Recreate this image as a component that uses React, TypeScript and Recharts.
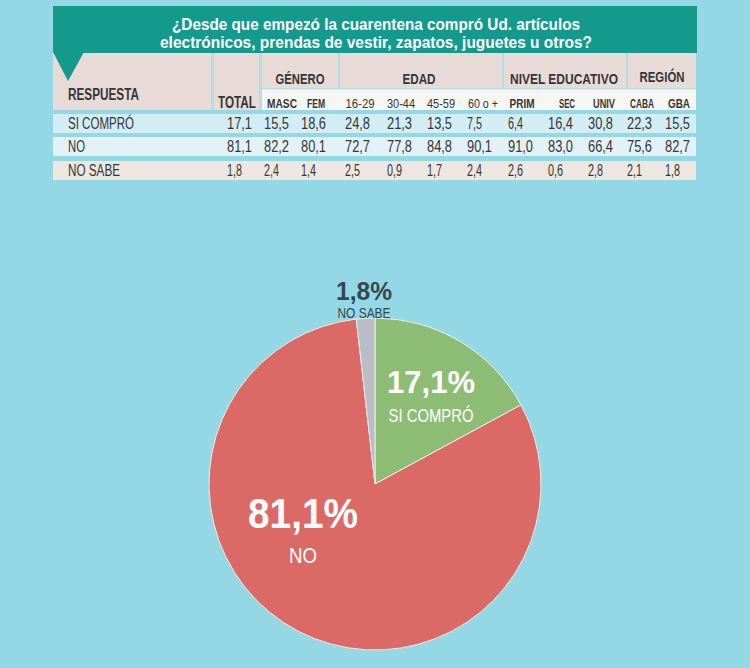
import React from 'react';
import { PieChart, Pie, Cell } from 'recharts';

const titleLines = [
  '¿Desde que empezó la cuarentena compró Ud. artículos',
  'electrónicos, prendas de vestir, zapatos, juguetes u otros?',
];
const groupLabels = ['GÉNERO', 'EDAD', 'NIVEL EDUCATIVO', 'REGIÓN'];
const subLabels = ['MASC', 'FEM', '16-29', '30-44', '45-59', '60 o +', 'PRIM', 'SEC', 'UNIV', 'CABA', 'GBA'];
const respuestas = ['SI COMPRÓ', 'NO', 'NO SABE'];
const totals = [17.1, 81.1, 1.8];
const siCompro = [15.5, 18.6, 24.8, 21.3, 13.5, 7.5, 6.4, 16.4, 30.8, 22.3, 15.5];
const noCompro = [82.2, 80.1, 72.7, 77.8, 84.8, 90.1, 91.0, 83.0, 66.4, 75.6, 82.7];
const noSabe = [2.4, 1.4, 2.5, 0.9, 1.7, 2.4, 2.6, 0.6, 2.8, 2.1, 1.8];
const rowValues = [siCompro, noCompro, noSabe];

const FONT = "'Liberation Sans',Arial,Roboto,sans-serif";
const BG = '#94D7E5';
const TEAL = '#14998D';
const BEIGE = '#E8DBD7';
const SEP = '#B8DCE4';
const DARK = '#363636';
const ROW_BG = ['#D3EDF5', '#E2F2F6', '#EDE6E1'];
const PIE_COLORS = ['#8DBD74', '#DB6966', '#B9BEC6'];

const fmt = (v: number) => v.toFixed(1).replace('.', ',');

// layout (pixels)
const groupCenters = [300, 419, 564, 662];
const groupWidths = [49, 33, 108, 45];
const subCenters = [282, 316, 360, 401, 441, 483, 522, 567, 604, 642, 679];
const subWidths = [30, 18, 29, 28, 28, 30, 25, 16, 22, 24, 22];
const subBold = [true, true, false, false, false, false, true, true, true, true, true];
const valueStarts = [264, 301, 345, 387, 427, 467, 508, 548, 588, 627, 665];
const rowTops = [114, 137, 161];
const rowBaselines = [129, 152, 176];
const rowLabelWidths = [66, 17, 52];
const valueWidth = (s: string) => (s.length >= 4 ? 25 : 15);

function T(props: any) {
  const { x, y, w, size, weight, anchor, fill, children } = props;
  return (
    <text
      x={x}
      y={y}
      fontFamily={FONT}
      fontSize={size}
      fontWeight={weight || 'normal'}
      textAnchor={anchor || 'start'}
      fill={fill || DARK}
      {...(w ? { textLength: w, lengthAdjust: 'spacingAndGlyphs' } : {})}
    >
      {children}
    </text>
  );
}

function Table() {
  return (
    <svg width={750} height={200} style={{ position: 'absolute', left: 0, top: 0 }}>
      <rect x={53} y={6} width={644} height={47} fill={TEAL} />
      <T x={376} y={30} w={408} size={16.5} weight="bold" anchor="middle" fill="#FFFFFF">{titleLines[0]}</T>
      <T x={376} y={47.5} w={432} size={16.5} weight="bold" anchor="middle" fill="#FFFFFF">{titleLines[1]}</T>
      <rect x={53} y={53} width={643} height={57} fill={BEIGE} />
      <rect x={262} y={88} width={434} height={22} fill={SEP} />
      <rect x={262} y={89.5} width={434} height={20.5} fill="#F6F6F3" />
      <rect x={211} y={53} width={3} height={57} fill={SEP} />
      <rect x={259} y={53} width={3} height={57} fill={SEP} />
      <rect x={338} y={53} width={2} height={35} fill={SEP} />
      <rect x={502} y={53} width={2} height={35} fill={SEP} />
      <rect x={626} y={53} width={2} height={35} fill={SEP} />
      <polygon points="53,52 84,52 68,81" fill={TEAL} />
      <T x={68} y={100} w={71} size={16} weight="bold">RESPUESTA</T>
      <T x={218} y={108} w={38} size={16} weight="bold">TOTAL</T>
      {groupLabels.map((g, i) => (
        <T key={g} x={groupCenters[i]} y={i === 3 ? 82 : 84} w={groupWidths[i]} size={15} weight="bold" anchor="middle">{g}</T>
      ))}
      {subLabels.map((s, i) => (
        <T key={s} x={subCenters[i]} y={108} w={subWidths[i]} size={12} weight={subBold[i] ? 'bold' : 'normal'} anchor="middle">{s}</T>
      ))}
      {respuestas.map((r, ri) => (
        <g key={r}>
          <rect x={53} y={rowTops[ri]} width={643} height={19} fill={ROW_BG[ri]} />
          <T x={68} y={rowBaselines[ri]} w={rowLabelWidths[ri]} size={16}>{r}</T>
          <T x={227} y={rowBaselines[ri]} w={valueWidth(fmt(totals[ri]))} size={16}>{fmt(totals[ri])}</T>
          {rowValues[ri].map((v, ci) => (
            <T key={ci} x={valueStarts[ci]} y={rowBaselines[ri]} w={valueWidth(fmt(v))} size={16}>{fmt(v)}</T>
          ))}
        </g>
      ))}
    </svg>
  );
}

const pieData = respuestas.map((name, i) => ({ name, value: totals[i] }));

const labelLayout = [
  { dx: 56, big: { dy: -91, size: 31, w: 88 }, small: { dy: -62, size: 19, w: 85 }, color: '#FFFFFF' },
  { dx: -72, big: { dy: 44, size: 43, w: 110 }, small: { dy: 79, size: 22, w: 28 }, color: '#FFFFFF' },
  { dx: -11, big: { dy: -184, size: 25, w: 56 }, small: { dy: -166, size: 15, w: 53 }, color: '#34474F' },
];

function renderLabel(props: any) {
  const { cx, cy, index, value, name } = props;
  const l = labelLayout[index];
  return (
    <g>
      <T x={cx + l.dx} y={cy + l.big.dy} w={l.big.w} size={l.big.size} weight="bold" anchor="middle" fill={l.color}>
        {fmt(value) + '%'}
      </T>
      <T x={cx + l.dx} y={cy + l.small.dy} w={l.small.w} size={l.small.size} anchor="middle" fill={l.color}>
        {name}
      </T>
    </g>
  );
}

export default function App() {
  return (
    <div style={{ position: 'absolute', left: 0, top: 0, width: 750, height: 668, background: BG, overflow: 'hidden' }}>
      <div style={{ position: 'absolute', left: 0, top: 0 }}>
        <PieChart width={750} height={668} margin={{ top: 0, right: 0, bottom: 0, left: 0 }}>
          <Pie
            data={pieData}
            dataKey="value"
            nameKey="name"
            cx={375}
            cy={484}
            outerRadius={166}
            startAngle={90}
            endAngle={-270}
            stroke="#F2ECE6"
            strokeWidth={1}
            label={renderLabel}
            labelLine={false}
            isAnimationActive={false}
          >
            {pieData.map((d, i) => (
              <Cell key={d.name} fill={PIE_COLORS[i]} />
            ))}
          </Pie>
        </PieChart>
      </div>
      <Table />
    </div>
  );
}
